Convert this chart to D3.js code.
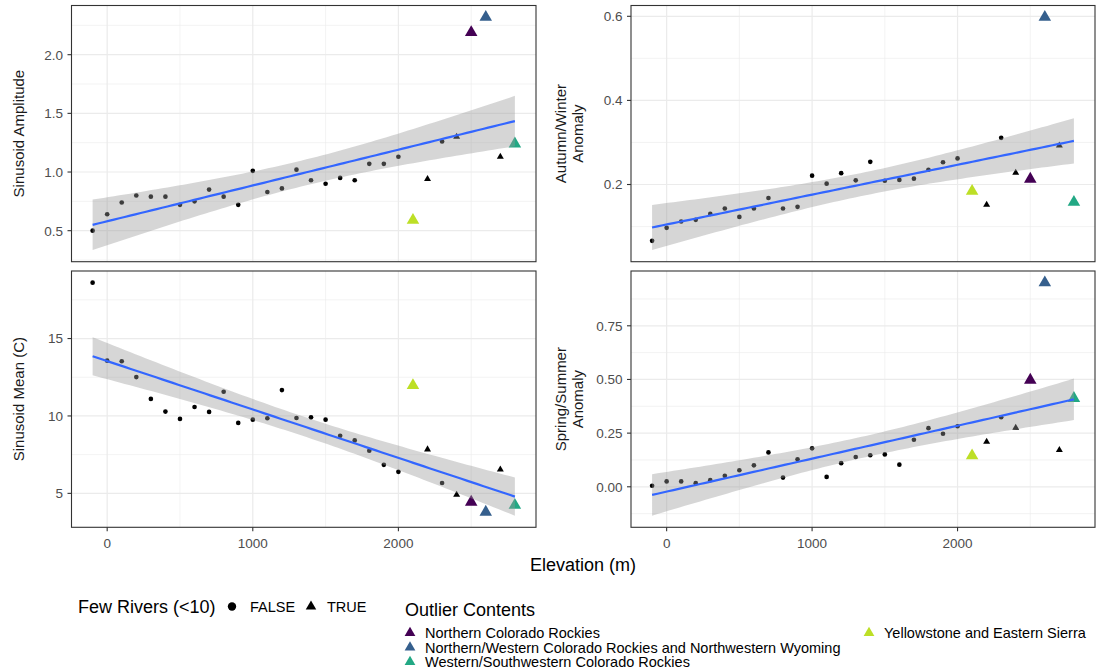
<!DOCTYPE html>
<html>
<head>
<meta charset="utf-8">
<script src="https://cdn.jsdelivr.net/npm/d3@7"></script>
<style>
  body { margin: 0; background: #fff; }
  svg { font-family: "Liberation Sans", Arial, sans-serif; display: block; }
</style>
</head>
<body>
<script>
// elevation bins (m)
const elevation = [-100, 0, 100, 200, 300, 400, 500, 600, 700, 800, 900, 1000, 1100, 1200, 1300,
    1400, 1500, 1600, 1700, 1800, 1900, 2000, 2100, 2200, 2300, 2400, 2500, 2600, 2700, 2800];

const fewRivers = [false, false, false, false, false, false, false, false, false, false,
    false, false, false, false, false, false, false, false, false, false,
    false, false, true, true, false, true, true, true, true, true];

const outlier = [null, null, null, null, null, null, null, null, null, null,
    null, null, null, null, null, null, null, null, null, null,
    null, null, 'Yellowstone and Eastern Sierra', null, null, null,
    'Northern Colorado Rockies', 'Northern/Western Colorado Rockies and Northwestern Wyoming',
    null, 'Western/Southwestern Colorado Rockies'];

const amplitude = [0.50, 0.64, 0.74, 0.80, 0.79, 0.79, 0.72, 0.75, 0.85, 0.79,
    0.72, 1.01, 0.83, 0.86, 1.02, 0.93, 0.90, 0.95, 0.93, 1.07,
    1.07, 1.13, 0.59, 0.94, 1.26, 1.30, 2.19, 2.32, 1.13, 1.24];

const autumnWinter = [0.066, 0.097, 0.112, 0.116, 0.130, 0.143, 0.123, 0.143, 0.168, 0.143,
    0.147, 0.221, 0.202, 0.227, 0.210, 0.254, 0.209, 0.211, 0.214, 0.235,
    0.253, 0.262, 0.184, 0.152, 0.311, 0.228, 0.213, 0.598, 0.293, 0.158];

const sinusoidMean = [18.61, 13.57, 13.53, 12.51, 11.10, 10.28, 9.81, 10.58, 10.26, 11.56,
    9.55, 9.76, 9.85, 11.67, 9.87, 9.91, 9.76, 8.72, 8.42, 7.75,
    6.84, 6.39, 11.97, 7.84, 5.67, 4.91, 4.44, 3.79, 6.54, 4.24];

const springSummer = [0.005, 0.025, 0.025, 0.017, 0.031, 0.051, 0.077, 0.100, 0.160, 0.043,
    0.128, 0.179, 0.046, 0.110, 0.139, 0.147, 0.151, 0.103, 0.219, 0.273,
    0.247, 0.282, 0.145, 0.210, 0.324, 0.275, 0.497, 0.951, 0.171, 0.412];

const outlierLevels = ['Northern Colorado Rockies',
    'Northern/Western Colorado Rockies and Northwestern Wyoming',
    'Western/Southwestern Colorado Rockies',
    'Yellowstone and Eastern Sierra'];

const xTicks = [0, 1000, 2000];
const ampTicks = [0.5, 1.0, 1.5, 2.0];
const awTicks = [0.2, 0.4, 0.6];
const meanTicks = [5, 10, 15];
const ssTicks = [0, 0.25, 0.5, 0.75];

const width = 1099,
    height = 672;

const svg = d3.select('body').append('svg')
    .attr('width', width)
    .attr('height', height);

const colour = d3.scaleOrdinal()
    .domain(outlierLevels)
    .range([0, 0.3, 0.6, 0.9].map(d3.interpolateViridis));

const panels = [
    {label: ['Sinusoid Amplitude'], values: amplitude, ticks: ampTicks, fmt: '.1f',
        x0: 71.5, x1: 536, y0: 5.5, y1: 261.7, labelX: 19, xAxis: false},
    {label: ['Autumn/Winter', 'Anomaly'], values: autumnWinter, ticks: awTicks, fmt: '.1f',
        x0: 631, x1: 1095, y0: 5.5, y1: 261.7, labelX: 569, xAxis: false},
    {label: ['Sinusoid Mean (C)'], values: sinusoidMean, ticks: meanTicks, fmt: 'd',
        x0: 71.5, x1: 536, y0: 271, y1: 527.3, labelX: 19, xAxis: true},
    {label: ['Spring/Summer', 'Anomaly'], values: springSummer, ticks: ssTicks, fmt: '.2f',
        x0: 631, x1: 1095, y0: 271, y1: 527.3, labelX: 569, xAxis: true}
];

// linear model with 95% confidence band, like geom_smooth(method = 'lm')
function lmBand(xs, ys) {
    const n = xs.length;
    const mx = d3.mean(xs), my = d3.mean(ys);
    let sxx = 0, sxy = 0;
    xs.forEach(function (x, i) {
        sxx += (x - mx) * (x - mx);
        sxy += (x - mx) * (ys[i] - my);
    });
    const b = sxy / sxx, a = my - b * mx;
    const sse = d3.sum(xs, function (x, i) { return Math.pow(ys[i] - a - b * x, 2); });
    const s = Math.sqrt(sse / (n - 2));
    const t = 2.048407; // qt(0.975, 28)
    const lo = d3.min(xs), hi = d3.max(xs);
    return d3.range(80).map(function (i) {
        const x = lo + i * (hi - lo) / 79;
        const fit = a + b * x;
        const se = s * Math.sqrt(1 / n + (x - mx) * (x - mx) / sxx);
        return {x: x, y: fit, ymin: fit - t * se, ymax: fit + t * se};
    });
}

function expand(lo, hi) {
    const pad = (hi - lo) * 0.05;
    return [lo - pad, hi + pad];
}

const xDomain = expand(d3.min(elevation), d3.max(elevation));

panels.forEach(function (p) {
    const band = lmBand(elevation, p.values);
    const yLo = Math.min(d3.min(p.values), d3.min(band, function (d) { return d.ymin; }));
    const yHi = Math.max(d3.max(p.values), d3.max(band, function (d) { return d.ymax; }));

    const x = d3.scaleLinear().domain(xDomain).range([p.x0, p.x1]);
    const y = d3.scaleLinear().domain(expand(yLo, yHi)).range([p.y1, p.y0]);

    const g = svg.append('g');

    // minor grid
    const xStep = xTicks[1] - xTicks[0];
    const xMinor = d3.range(xTicks[0] - xStep / 2, xTicks[xTicks.length - 1] + xStep, xStep)
        .filter(function (v) { return v > xDomain[0] && v < xDomain[1]; });
    const yStep = p.ticks[1] - p.ticks[0];
    const yd = y.domain();
    const yMinor = d3.range(p.ticks[0] - yStep / 2, p.ticks[p.ticks.length - 1] + yStep, yStep)
        .filter(function (v) { return v > yd[0] && v < yd[1]; });

    g.selectAll('.xminor').data(xMinor).enter().append('line')
        .attr('x1', x).attr('x2', x).attr('y1', p.y0).attr('y2', p.y1)
        .attr('stroke', '#ebebeb').attr('stroke-width', 0.6);
    g.selectAll('.yminor').data(yMinor).enter().append('line')
        .attr('y1', y).attr('y2', y).attr('x1', p.x0).attr('x2', p.x1)
        .attr('stroke', '#ebebeb').attr('stroke-width', 0.6);
    g.selectAll('.xmajor').data(xTicks).enter().append('line')
        .attr('x1', x).attr('x2', x).attr('y1', p.y0).attr('y2', p.y1)
        .attr('stroke', '#ebebeb').attr('stroke-width', 1.2);
    g.selectAll('.ymajor').data(p.ticks).enter().append('line')
        .attr('y1', y).attr('y2', y).attr('x1', p.x0).attr('x2', p.x1)
        .attr('stroke', '#ebebeb').attr('stroke-width', 1.2);

    // points
    const pts = elevation.map(function (e, i) {
        return {x: e, y: p.values[i], few: fewRivers[i], out: outlier[i]};
    });
    g.selectAll('.pt').data(pts).enter().append('path')
        .attr('transform', function (d) { return 'translate(' + x(d.x) + ',' + y(d.y) + ')'; })
        .attr('d', function (d) {
            if (!d.few) return d3.symbol(d3.symbolCircle, 17)();
            return d3.symbol(d3.symbolTriangle, d.out ? 68 : 21)();
        })
        .attr('fill', function (d) { return d.out ? colour(d.out) : '#000'; });

    // smooth
    g.append('path')
        .datum(band)
        .attr('fill', '#999999')
        .attr('fill-opacity', 0.4)
        .attr('d', d3.area()
            .x(function (d) { return x(d.x); })
            .y0(function (d) { return y(d.ymin); })
            .y1(function (d) { return y(d.ymax); }));
    g.append('path')
        .datum(band)
        .attr('fill', 'none')
        .attr('stroke', '#3366FF')
        .attr('stroke-width', 2.2)
        .attr('d', d3.line()
            .x(function (d) { return x(d.x); })
            .y(function (d) { return y(d.y); }));

    // border
    g.append('rect')
        .attr('x', p.x0).attr('y', p.y0)
        .attr('width', p.x1 - p.x0).attr('height', p.y1 - p.y0)
        .attr('fill', 'none').attr('stroke', '#333333').attr('stroke-width', 1.1);

    // y axis
    const fmt = d3.format(p.fmt);
    g.selectAll('.ytick').data(p.ticks).enter().append('line')
        .attr('x1', p.x0 - 4).attr('x2', p.x0).attr('y1', y).attr('y2', y)
        .attr('stroke', '#333333').attr('stroke-width', 1.1);
    g.selectAll('.ylab').data(p.ticks).enter().append('text')
        .attr('x', p.x0 - 8.5).attr('y', y)
        .attr('dy', '0.36em')
        .attr('text-anchor', 'end')
        .attr('font-size', 13.5)
        .attr('fill', '#4d4d4d')
        .text(fmt);

    // x axis, bottom row only
    if (p.xAxis) {
        g.selectAll('.xtick').data(xTicks).enter().append('line')
            .attr('x1', x).attr('x2', x).attr('y1', p.y1).attr('y2', p.y1 + 4)
            .attr('stroke', '#333333').attr('stroke-width', 1.1);
        g.selectAll('.xlab').data(xTicks).enter().append('text')
            .attr('x', x).attr('y', p.y1 + 21)
            .attr('text-anchor', 'middle')
            .attr('font-size', 13.5)
            .attr('fill', '#4d4d4d')
            .text(d3.format('d'));
    }

    // strip label on the left
    const lab = g.append('text')
        .attr('transform', 'translate(' + p.labelX + ',' + ((p.y0 + p.y1) / 2) + ') rotate(-90)')
        .attr('text-anchor', 'middle')
        .attr('font-size', 15)
        .attr('fill', '#1a1a1a');
    const n = p.label.length;
    p.label.forEach(function (s, i) {
        lab.append('tspan')
            .attr('x', 0)
            .attr('y', (i - (n - 1) / 2) * 16.5)
            .attr('dy', '0.35em')
            .text(s);
    });
});

svg.append('text')
    .attr('x', 583)
    .attr('y', 571)
    .attr('text-anchor', 'middle')
    .attr('font-size', 18)
    .attr('fill', '#000')
    .text('Elevation (m)');

// legend: few rivers
const leg1 = svg.append('g');
leg1.append('text')
    .attr('x', 78).attr('y', 613)
    .attr('font-size', 18)
    .text('Few Rivers (<10)');
const shapeKeys = [
    {label: 'FALSE', sym: d3.symbolCircle, size: 55, kx: 232, tx: 250},
    {label: 'TRUE', sym: d3.symbolTriangle, size: 48, kx: 311, tx: 327}
];
leg1.selectAll('.k').data(shapeKeys).enter().append('path')
    .attr('transform', function (d) { return 'translate(' + d.kx + ',606.5)'; })
    .attr('d', function (d) { return d3.symbol(d.sym, d.size)(); })
    .attr('fill', '#000');
leg1.selectAll('.t').data(shapeKeys).enter().append('text')
    .attr('x', function (d) { return d.tx; })
    .attr('y', 612)
    .attr('font-size', 14.5)
    .text(function (d) { return d.label; });

// legend: outlier contents
const leg2 = svg.append('g');
leg2.append('text')
    .attr('x', 405).attr('y', 616)
    .attr('font-size', 18)
    .text('Outlier Contents');
const rowY = [633, 647.5, 662];
const colX = [410, 869];
const items = outlierLevels.map(function (d, i) {
    return {label: d, kx: colX[Math.floor(i / 3)], ky: rowY[i % 3]};
});
leg2.selectAll('.k').data(items).enter().append('path')
    .attr('transform', function (d) { return 'translate(' + d.kx + ',' + d.ky + ')'; })
    .attr('d', d3.symbol(d3.symbolTriangle, 50))
    .attr('fill', function (d) { return colour(d.label); });
leg2.selectAll('.t').data(items).enter().append('text')
    .attr('x', function (d) { return d.kx + 15; })
    .attr('y', function (d) { return d.ky + 5; })
    .attr('font-size', 14.5)
    .text(function (d) { return d.label; });
</script>
</body>
</html>
